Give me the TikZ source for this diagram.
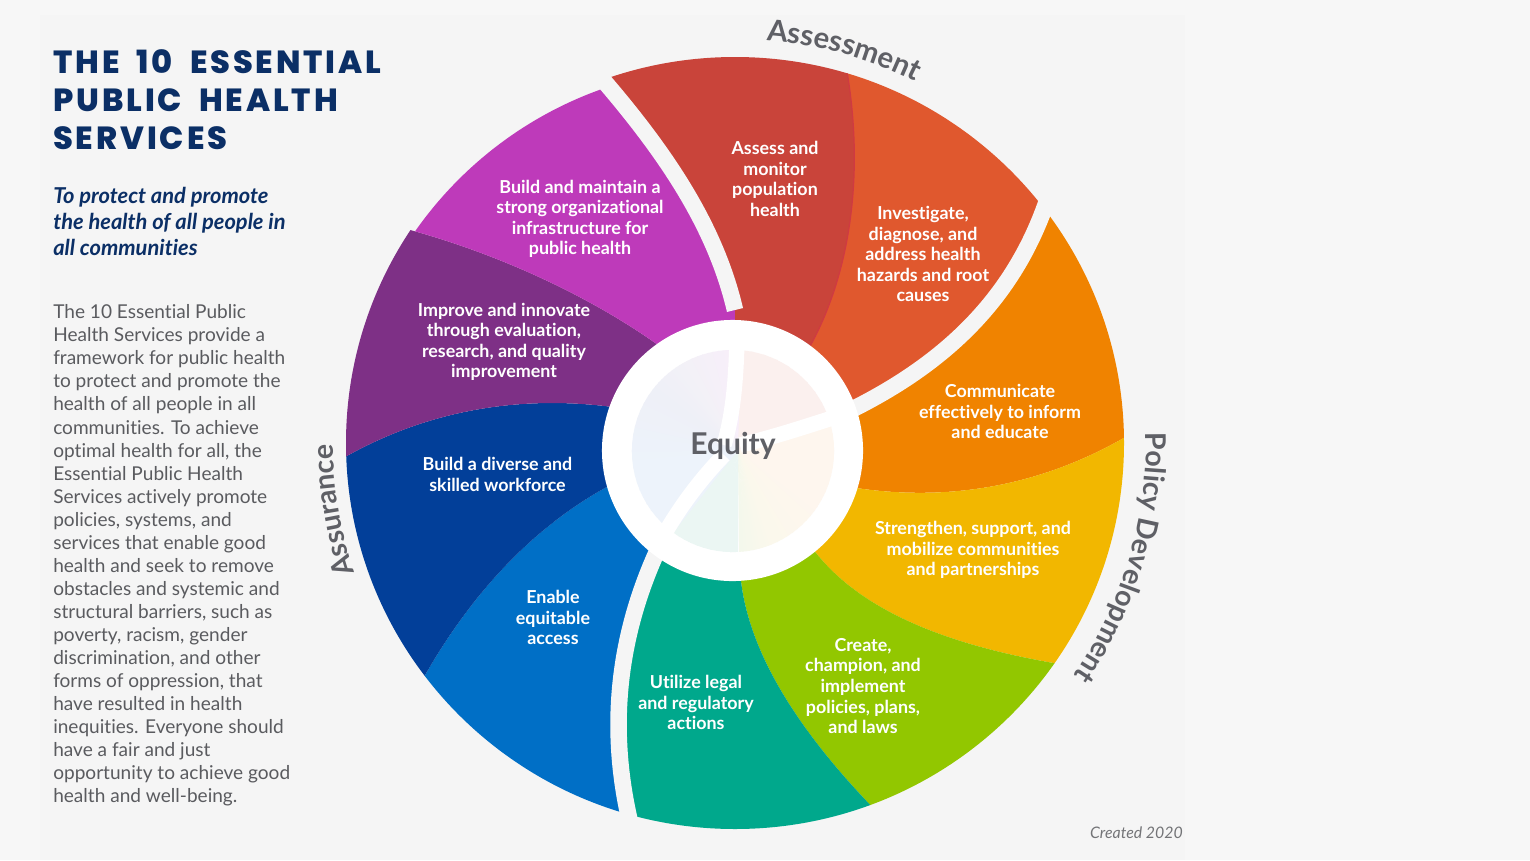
\documentclass[tikz,border=0pt]{standalone}
\usepackage{fontspec}
\usetikzlibrary{decorations.text}
\setmainfont[Ligatures=NoCommon]{Lato}
\newfontfamily\titlefont[LetterSpace=9.0,WordSpace=1.9,BoldFont={Poppins ExtraBold}]{Poppins}
\newcommand{\labfont}{\fontsize{13.4pt}{15.4pt}\selectfont\bfseries}
\newcommand{\curvefont}{\fontsize{22pt}{24pt}\selectfont\bfseries}
\newcommand{\curvefontb}{\fontsize{21.4pt}{24pt}\selectfont\bfseries}
\definecolor{panel}{HTML}{F5F5F5}
\definecolor{outerbg}{HTML}{F7F7F7}
\definecolor{navy}{HTML}{0B2F66}
\definecolor{bodygrey}{HTML}{5A5B5F}
\definecolor{headgrey}{HTML}{5F6066}
\definecolor{cRed}{HTML}{C9443A}
\definecolor{cRedLine}{HTML}{CF3A42}
\definecolor{cRedOr}{HTML}{E0582E}
\definecolor{cOrange}{HTML}{F08300}
\definecolor{cYellow}{HTML}{F2B700}
\definecolor{cGreen}{HTML}{92C700}
\definecolor{cTeal}{HTML}{00A88C}
\definecolor{cBlue}{HTML}{006FC6}
\definecolor{cDark}{HTML}{023F99}
\definecolor{cPurple}{HTML}{7E3086}
\definecolor{cMag}{HTML}{BE3ABA}
\definecolor{pPink}{HTML}{FBF0EE}
\definecolor{pOr}{HTML}{FEF6EE}
\definecolor{pYe}{HTML}{FBF8EC}
\definecolor{pGr}{HTML}{F4F8EC}
\definecolor{pTe}{HTML}{EBF6F3}
\definecolor{pBl}{HTML}{EDF3FB}
\definecolor{pDk}{HTML}{EEF0F7}
\definecolor{pPu}{HTML}{F3F1F7}
\definecolor{pMa}{HTML}{F8EEFA}
\tikzset{
  lab/.style={text=white,align=center,inner sep=0pt,font=\labfont},
  wheelgap/.style={draw=panel,line width=12.4pt,line cap=butt},
  pielgap/.style={draw=white,line width=11.5pt,line cap=butt},
  curved/.style={decorate,decoration={text along path,text align=center,text color=headgrey,text={#1}}}
}
\begin{document}
\begin{tikzpicture}[x=0.75pt,y=-0.75pt]
\useasboundingbox (0,0) rectangle (1530,860);
\fill[outerbg] (0,0) rectangle (1530,860);
\fill[panel] (40,15) rectangle (1185,860);
% wheel
\begin{scope}
\clip (735,443) ellipse [x radius=291.75pt,y radius=289.5pt];
\fill[cRed] (733,450) -- (735,310) .. controls (715,225) and (665,150) .. (590,65) -- (720,-100) -- (843,50) .. controls (868,170) and (850,280) .. (805,355) -- cycle;
\fill[cRedOr] (733,450) -- (805,355) .. controls (850,280) and (868,170) .. (843,50) -- (1100,-50) -- (1052,185) .. controls (1018,300) and (940,370) .. (830,420) -- cycle;
\draw[cRedLine,line width=0.9pt] (805,355) .. controls (850,280) and (868,170) .. (843,50);
\fill[cOrange] (733,450) -- (830,420) .. controls (940,370) and (1018,300) .. (1052,185) -- (1350,250) -- (1145,425) .. controls (1060,480) and (960,505) .. (850,487) -- cycle;
\fill[cYellow] (733,450) -- (850,487) .. controls (960,505) and (1060,480) .. (1145,425) -- (1350,700) -- (1085,668) .. controls (960,650) and (860,615) .. (810,545) -- cycle;
\fill[cGreen] (733,450) -- (810,545) .. controls (860,615) and (960,650) .. (1085,668) -- (1100,1050) -- (885,820) .. controls (800,735) and (745,650) .. (740,570) -- cycle;
\fill[cTeal] (733,450) -- (740,570) .. controls (745,650) and (800,735) .. (885,820) -- (750,1100) -- (636,845) .. controls (603,730) and (620,630) .. (660,545) -- cycle;
\fill[cBlue] (733,450) -- (660,545) .. controls (620,630) and (603,730) .. (636,845) -- (350,1100) -- (410,703) .. controls (460,605) and (530,525) .. (620,480) -- cycle;
\fill[cDark] (733,450) -- (620,480) .. controls (530,525) and (460,605) .. (410,703) -- (100,700) -- (325,469) .. controls (410,415) and (510,392) .. (620,408) -- cycle;
\fill[cPurple] (733,450) -- (620,408) .. controls (510,392) and (410,415) .. (325,469) -- (100,200) -- (395,226) .. controls (490,250) and (590,295) .. (665,350) -- cycle;
\begin{scope}
\clip (730.6,452) circle [radius=288.75pt];
\fill[cMag] (733,450) -- (665,350) .. controls (590,295) and (490,250) .. (395,226) -- (350,-50) -- (590,65) .. controls (665,150) and (715,225) .. (735,310) -- cycle;
\end{scope}
\end{scope}
% wheel gaps
\draw[wheelgap] (735,310) .. controls (715,225) and (665,150) .. (590,65);
\draw[wheelgap] (830,420) .. controls (940,370) and (1018,300) .. (1052,185);
\draw[wheelgap] (660,545) .. controls (620,630) and (603,730) .. (636,845);
% hub
\fill[white] (732.5,450.5) circle [radius=97.9pt];
\begin{scope}
\clip (733,451) circle [radius=75.8pt];
\foreach \a/\b/\c/\d in {90/15/pPink/pPink,15/-35/pOr/pOr,-35/-70/pOr/pYe,-70/-89/pYe/pGr,-90/-128/pTe/pTe,-128/-170/pBl/pBl,-170/-215/pBl/pDk,-215/-240/pDk/pPu,-240/-271/pPu/pMa}{
  \foreach \t in {0,...,9}{
    \pgfmathsetmacro{\aa}{\a+(\b-\a)*\t/10}
    \pgfmathsetmacro{\bb}{\a+(\b-\a)*(\t+1.2)/10}
    \pgfmathtruncatemacro{\p}{10*\t+5}
    \fill[\d!\p!\c] (738,450) -- ({738+170*cos(\aa)},{450-170*sin(\aa)}) -- ({738+170*cos(\bb)},{450-170*sin(\bb)}) -- cycle;
  }
}
\end{scope}
\draw[pielgap] (737,340) .. controls (736,380) and (733,415) .. (724,445);
\draw[pielgap] (845,414) .. controls (810,425) and (775,437) .. (740,445);
\draw[pielgap] (661,540) .. controls (675,515) and (695,485) .. (724,455);
\node[text=headgrey,font=\fontsize{22.5pt}{24pt}\selectfont\bfseries,inner sep=0pt] (equity) at (733,446) {Equity};
% labels
\node[lab] (s1) at (775,179) {Assess and\\monitor\\population\\health};
\node[lab] (s2) at (923,254) {Investigate,\\diagnose, and\\address health\\hazards and root\\causes};
\node[lab] (s3) at (1000,411.5) {Communicate\\effectively to inform\\and educate};
\node[lab] (s4) at (973,550) {Strengthen, support, and\\mobilize communities\\and partnerships};
\node[lab] (s5) at (863,686) {Create,\\champion, and\\implement\\policies, plans,\\and laws};
\node[lab] (s6) at (696,702.5) {Utilize legal\\and regulatory\\actions};
\node[lab] (s7) at (553,617.5) {Enable\\equitable\\access};
\node[lab] (s8) at (497.5,474.5) {Build a diverse and\\skilled workforce};
\node[lab] (s9) at (504,342) {Improve and innovate\\through evaluation,\\research, and quality\\improvement};
\node[lab] (s10) at (580,219) {Build and maintain a\\strong organizational\\infrastructure for\\public health};
% curved headings
\path[curved={|\curvefont|Assessment}] plot[domain=95:54,samples=60] ({735+404*cos(\x)},{443-404*sin(\x)});
\path[curved={|\curvefontb|Policy Development}] plot[domain=12.5:-45.5,samples=80] ({735+411*cos(\x)},{443-411*sin(\x)});
\path[curved={|\curvefontb|Assurance}] plot[domain=212:167,samples=60] ({735+402*cos(\x)},{443-402*sin(\x)});
% left column
\node[anchor=north west,inner sep=0pt,align=left,text=navy,font=\titlefont\fontsize{24pt}{28.5pt}\selectfont\bfseries] (title) at (53,49) {THE 10 ESSENTIAL\\PUBLIC HEALTH\\SERVICES};
\node[anchor=north west,inner sep=0pt,align=left,text=navy,font=\fontsize{16.4pt}{19.8pt}\selectfont\bfseries\itshape] (sub) at (53,186.5) {To protect and promote\\the health of all people in\\all communities};
\node[anchor=north west,inner sep=0pt,align=left,text=bodygrey,font=\fontsize{14.3pt}{17.28pt}\selectfont] (body) at (53,304.5) {The 10 Essential Public\\Health Services provide a\\framework for public health\\to protect and promote the\\health of all people in all\\communities. To achieve\\optimal health for all, the\\Essential Public Health\\Services actively promote\\policies, systems, and\\services that enable good\\health and seek to remove\\obstacles and systemic and\\structural barriers, such as\\poverty, racism, gender\\discrimination, and other\\forms of oppression, that\\have resulted in health\\inequities. Everyone should\\have a fair and just\\opportunity to achieve good\\health and well-being.};
\node[anchor=base east,inner sep=0pt,text=bodygrey!85,font=\fontsize{11.9pt}{13pt}\selectfont\itshape] (created) at (1183,838) {Created 2020};
\end{tikzpicture}
\end{document}
